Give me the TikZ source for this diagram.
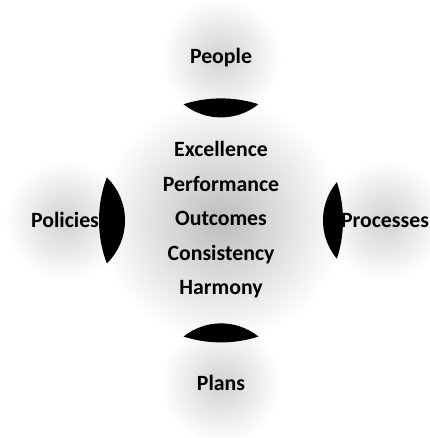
\documentclass[tikz,border=0pt]{standalone}
\usepackage{fontspec}
\setmainfont{Carlito}
\tikzset{
  hub/.style={circle, minimum size=6.1cm, inner sep=0pt,
    shading=radial, inner color=black!26, outer color=white},
  petal/.style={circle, minimum size=3cm, inner sep=0pt,
    shading=radial, inner color=black!18, outer color=white,
    font=\fontsize{15.5}{18}\selectfont\bfseries},
  value/.style={inner sep=0pt, text height=10.5pt, text depth=3pt,
    font=\fontsize{15.5}{18}\selectfont\bfseries},
}

\begin{document}
\begin{tikzpicture}
\useasboundingbox (-5.525,-5.44) rectangle (5.2,5.51);
% outer circles
\node[petal] (people) at (0,4.075) {People};
\node[petal] (plans) at (0,-4.075) {Plans};
\node[petal] (policies) at (-3.9,0) {Policies};
\node[petal] (processes) at (4.1,0) {Processes};
% centre circle
\node[hub] (hub) at (0,0) {};
% dark overlaps
\begin{scope}
  \clip (hub.center) circle[radius=3.05cm];
  \foreach \p in {people,plans,policies}
    \fill[black] (\p.center) circle[radius=1.5cm];
  \fill[black] (processes.center) ++(-0.05,0) circle[radius=1.5cm];
\end{scope}
% values in the middle
\foreach \txt [count=\i] in {Excellence,Performance,Outcomes,Consistency,Harmony}
  \node[value] (v\i) at (0,{1.72-0.86*(\i-1)}) {\txt};
\end{tikzpicture}
\end{document}
